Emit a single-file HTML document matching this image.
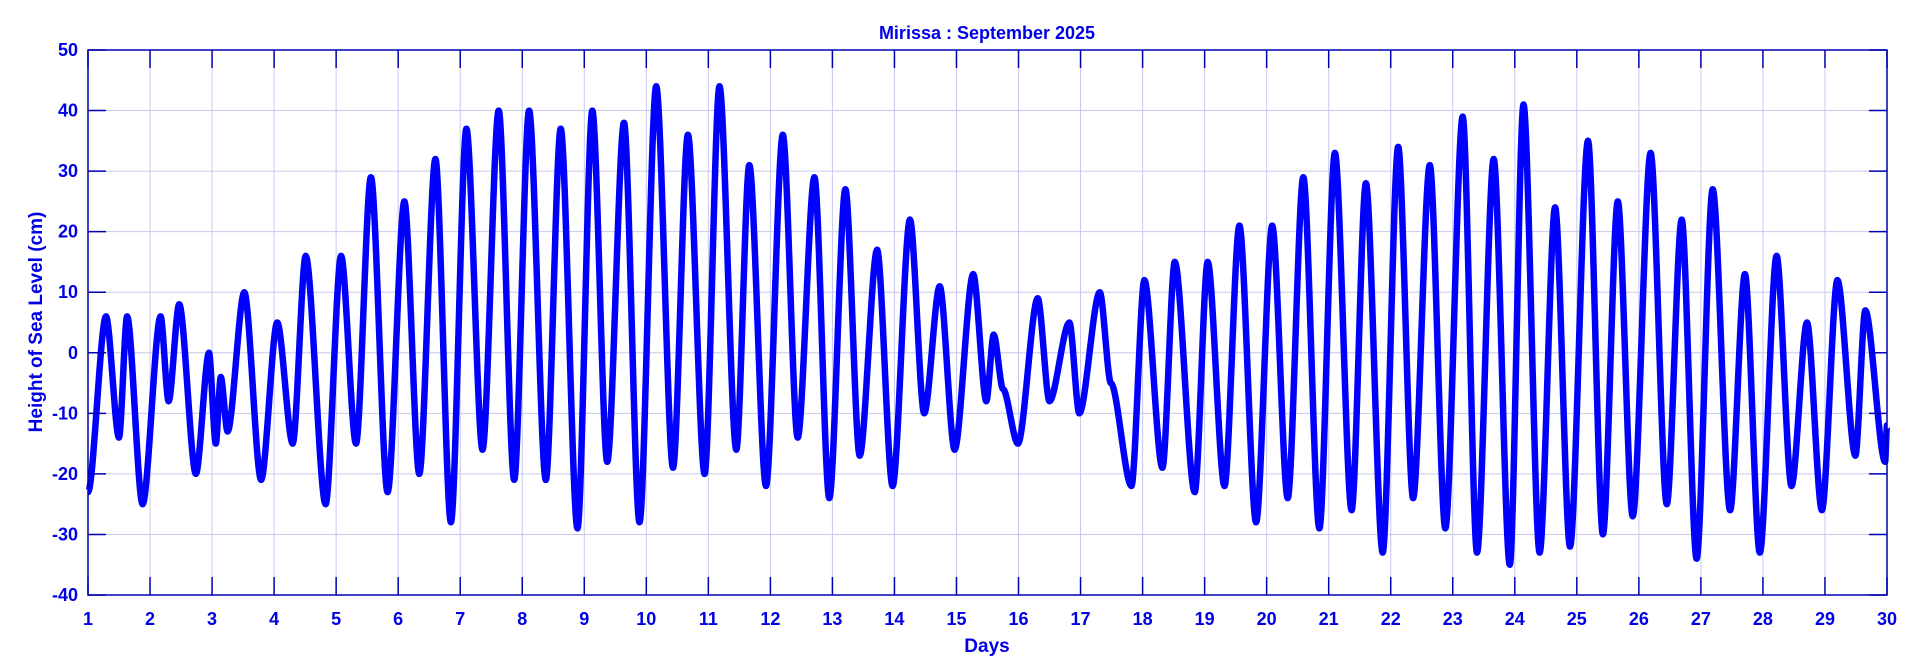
<!DOCTYPE html>
<html><head><meta charset="utf-8"><style>
html,body{margin:0;padding:0;background:#fff;}
svg{display:block;font-family:"Liberation Sans",Arial,sans-serif;font-weight:bold;}
</style></head><body>
<svg id="chart" width="1920" height="670" viewBox="0 0 1920 670" xmlns="http://www.w3.org/2000/svg">
<g id="grid"></g>
<g id="series"></g>
<g id="axes"></g>
<rect x="862" y="18" width="250" height="28" fill="#fff"/>
<text x="987" y="39" text-anchor="middle" font-size="18" fill="#0000e6">Mirissa : September 2025</text>
<text x="987" y="652" text-anchor="middle" font-size="19" fill="#0000e6">Days</text>
<text transform="translate(42,322) rotate(-90)" text-anchor="middle" font-size="19" fill="#0000e6">Height of Sea Level (cm)</text>
</svg>
<script>
// data: tidal extrema (day, cm)
const days = [1.0,1.29,1.5,1.63,1.88,2.17,2.3,2.47,2.74,2.95,3.06,3.14,3.25,3.52,3.79,4.05,4.3,4.51,4.83,5.08,5.32,5.56,5.83,6.1,6.34,6.6,6.85,7.1,7.36,7.62,7.87,8.11,8.38,8.62,8.89,9.13,9.37,9.64,9.89,10.16,10.43,10.67,10.94,11.18,11.45,11.66,11.93,12.2,12.44,12.71,12.95,13.21,13.44,13.72,13.97,14.25,14.48,14.73,14.97,15.27,15.48,15.6,15.75,15.99,16.31,16.5,16.82,16.98,17.31,17.49,17.82,18.03,18.32,18.52,18.84,19.05,19.32,19.56,19.83,20.09,20.34,20.59,20.85,21.1,21.37,21.6,21.87,22.12,22.36,22.63,22.88,23.16,23.39,23.66,23.92,24.14,24.4,24.65,24.89,25.18,25.42,25.66,25.9,26.19,26.45,26.69,26.93,27.19,27.47,27.71,27.95,28.22,28.46,28.71,28.95,29.2,29.49,29.65,29.97,30.0];
const levels = [-23,6,-14,6,-25,6,-8,8,-20,0,-15,-4,-13,10,-21,5,-15,16,-25,16,-15,29,-23,25,-20,32,-28,37,-16,40,-21,40,-21,37,-29,40,-18,38,-28,44,-19,36,-20,44,-16,31,-22,36,-14,29,-24,27,-17,17,-22,22,-10,11,-16,13,-8,3,-6,-15,9,-8,5,-10,10,-5,-22,12,-19,15,-23,15,-22,21,-28,21,-24,29,-29,33,-26,28,-33,34,-24,31,-29,39,-33,32,-35,41,-33,24,-32,35,-30,25,-27,33,-25,22,-34,27,-26,13,-33,16,-22,5,-26,12,-17,7,-18,-12];
const xTicks = [1,2,3,4,5,6,7,8,9,10,11,12,13,14,15,16,17,18,19,20,21,22,23,24,25,26,27,28,29,30];
const yTicks = [-40,-30,-20,-10,0,10,20,30,40,50];

const L=88,R=1887,T=50,B=595;
const xs=d=>L+(d-1)/(30-1)*(R-L);
const ys=v=>B-(v+40)/(90)*(B-T);
const NS="http://www.w3.org/2000/svg";
function mk(tag,attrs,parent){const e=document.createElementNS(NS,tag);for(const k in attrs)e.setAttribute(k,attrs[k]);parent.appendChild(e);return e;}
const grid=document.getElementById('grid'),axes=document.getElementById('axes'),series=document.getElementById('series');

xTicks.forEach(d=>{
  const x=xs(d);
  const g=mk('line',{x1:x,x2:x,y1:T,y2:B,stroke:'#c8c8ee','stroke-width':1},grid);
  
  
  const t1=mk('line',{x1:x,x2:x,y1:T,y2:T+18,stroke:'#0000b0','stroke-width':1.5},axes);
  
  
  const t2=mk('line',{x1:x,x2:x,y1:B,y2:B-18,stroke:'#0000b0','stroke-width':1.5},axes);
  
  
  const lb=mk('text',{x:x,y:625,'text-anchor':'middle','font-size':18,fill:'#0000e6'},axes);
  lb.textContent=d;
  
  
});
yTicks.forEach(v=>{
  const y=ys(v);
  const g=mk('line',{x1:L,x2:R,y1:y,y2:y,stroke:'#c8c8ee','stroke-width':1},grid);
  
  
  const t1=mk('line',{x1:L,x2:L+18,y1:y,y2:y,stroke:'#0000b0','stroke-width':1.5},axes);
  
  
  const t2=mk('line',{x1:R,x2:R-18,y1:y,y2:y,stroke:'#0000b0','stroke-width':1.5},axes);
  
  
  const lb=mk('text',{x:L-10,y:y+6,'text-anchor':'end','font-size':18,fill:'#0000e6'},axes);
  lb.textContent=v;
  
  
});
const frame=mk('rect',{x:L,y:T,width:R-L,height:B-T,fill:'none',stroke:'#0000b0','stroke-width':1.5},axes);



let d='M'+xs(days[0]).toFixed(1)+','+ys(levels[0]).toFixed(1);
for(let i=1;i<days.length;i++){
  const x0=xs(days[i-1]),y0=ys(levels[i-1]),x1=xs(days[i]),y1=ys(levels[i]);
  const m=(x1-x0)*0.3;
  d+=' C'+(x0+m).toFixed(1)+','+y0.toFixed(1)+' '+(x1-m).toFixed(1)+','+y1.toFixed(1)+' '+x1.toFixed(1)+','+y1.toFixed(1);
}
const p=mk('path',{d:d,fill:'none',stroke:'#0000ff','stroke-width':6.5,'stroke-linejoin':'round'},series);


</script>
</body></html>
